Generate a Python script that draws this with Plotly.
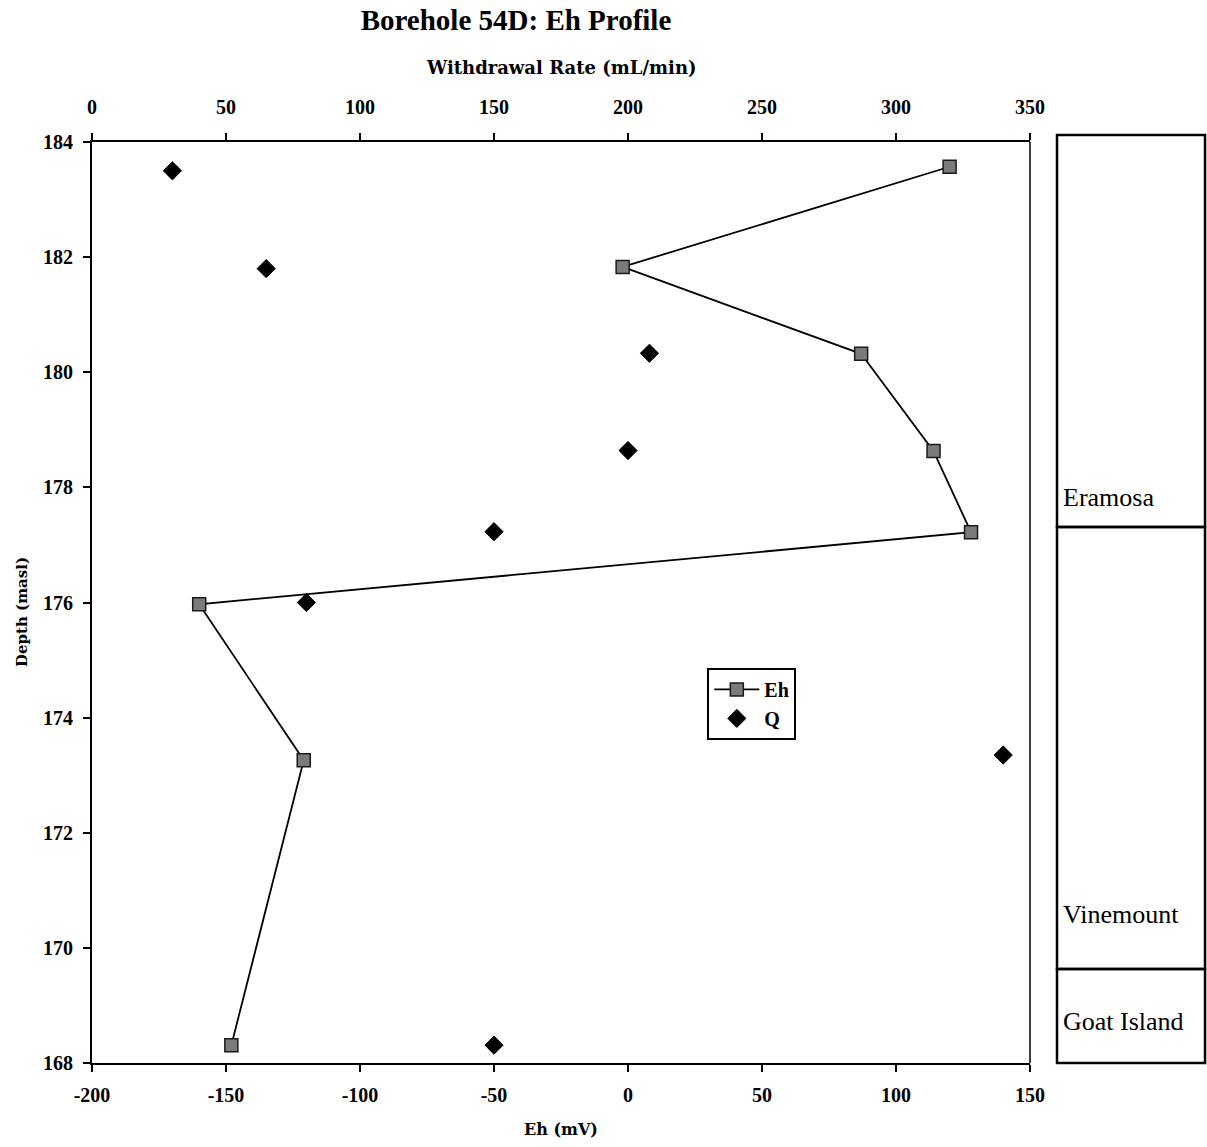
import plotly.graph_objects as go

# Data
eh_depth = [183.57, 181.83, 180.32, 178.63, 177.22, 175.97, 173.26, 168.31]
eh_mv = [120, -2, 87, 114, 128, -160, -121, -148]
q_depth = [183.5, 181.8, 180.33, 178.64, 177.23, 176.0, 173.35, 168.31]
q_rate = [30, 65, 208, 200, 150, 80, 340, 150]

eh_ticks = [-200, -150, -100, -50, 0, 50, 100, 150]
eh_ticktext = ["-200", "-150", "-100", "-50", "0", "50", "100", "150"]
q_ticks = [0, 50, 100, 150, 200, 250, 300, 350]
depth_ticks = [168, 170, 172, 174, 176, 178, 180, 182, 184]

formations = ["Eramosa", "Vinemount", "Goat Island"]

FONT = "Liberation Serif"
WIDE = "DejaVu Serif"

fig = go.Figure()
fig.add_trace(go.Scatter(
    x=eh_mv, y=eh_depth, mode="lines+markers", name="Eh",
    line=dict(color="black", width=1.8),
    marker=dict(symbol="square", size=13, color="#7a7a7a",
                line=dict(color="#1a1a1a", width=1.5)),
    xaxis="x", yaxis="y"))
fig.add_trace(go.Scatter(
    x=q_rate, y=q_depth, mode="markers", name="Q",
    marker=dict(symbol="diamond", size=14, color="black",
                line=dict(color="black", width=1)),
    xaxis="x2", yaxis="y"))

# Stratigraphic column (paper coordinates)
col_x0, col_x1 = 1.0288, 1.1866
edges = [1.0076, 0.582, 0.102, 0.0]
label_y = [0.6145, 0.1607, 0.0456]
for i, name in enumerate(formations):
    fig.add_shape(type="rect", xref="paper", yref="paper",
                  x0=col_x0, x1=col_x1, y0=edges[i + 1], y1=edges[i],
                  line=dict(color="black", width=2.5), fillcolor="rgba(0,0,0,0)")
    fig.add_annotation(xref="paper", yref="paper", x=col_x0 + 0.004, y=label_y[i],
                       text=name, showarrow=False, xanchor="left", yanchor="middle",
                       font=dict(family=FONT, size=26, color="black"))

# Axis titles as annotations
fig.add_annotation(xref="paper", yref="paper", x=0.5, y=1.0814,
                   text="<b>Withdrawal Rate (mL/min)</b>", showarrow=False,
                   xanchor="center", yanchor="middle",
                   font=dict(family=WIDE, size=18, color="black"))
fig.add_annotation(xref="paper", yref="paper", x=0.5, y=-0.0727,
                   text="<b>Eh (mV)</b>", showarrow=False,
                   xanchor="center", yanchor="middle",
                   font=dict(family=WIDE, size=16, color="black"))
fig.add_annotation(xref="paper", yref="paper", x=-0.0746, y=0.4897,
                   text="<b>Depth (masl)</b>", showarrow=False, textangle=-90,
                   xanchor="center", yanchor="middle",
                   font=dict(family=WIDE, size=15, color="black"))

tickfont = dict(family=FONT, size=20, color="black", weight="bold")
common = dict(showgrid=False, zeroline=False, showline=True, linecolor="black",
              linewidth=2, ticks="outside", ticklen=7, tickwidth=1.5,
              tickcolor="black", tickfont=tickfont)

fig.update_layout(
    width=1207, height=1147,
    margin=dict(l=92, r=177, t=142, b=84),
    paper_bgcolor="white", plot_bgcolor="white",
    font=dict(family=FONT, color="black", size=16),
    title=dict(text="<b>Borehole 54D: Eh Profile</b>", x=0.4275, xanchor="center",
               y=0.9825, yanchor="middle", font=dict(family=FONT, size=29)),
    xaxis=dict(range=[-200, 150], tickvals=eh_ticks, ticktext=eh_ticktext,
               ticklabelstandoff=6, **common),
    xaxis2=dict(range=[0, 350], tickvals=q_ticks, overlaying="x", side="top",
                anchor="y", ticklabelstandoff=11, **common),
    yaxis=dict(range=[168, 184], tickvals=depth_ticks, ticklabelstandoff=6, **common),
    legend=dict(x=0.656, y=0.429, xanchor="left", yanchor="top",
                bordercolor="black", borderwidth=2, bgcolor="white",
                font=dict(family=FONT, size=20, color="black", weight="bold"),
                itemwidth=45, tracegroupgap=6),
    showlegend=True,
)
# right border of plot area
fig.add_shape(type="line", xref="paper", yref="paper", x0=1, x1=1, y0=0, y1=1,
              line=dict(color="black", width=1.5))

fig.write_html("out.html")
